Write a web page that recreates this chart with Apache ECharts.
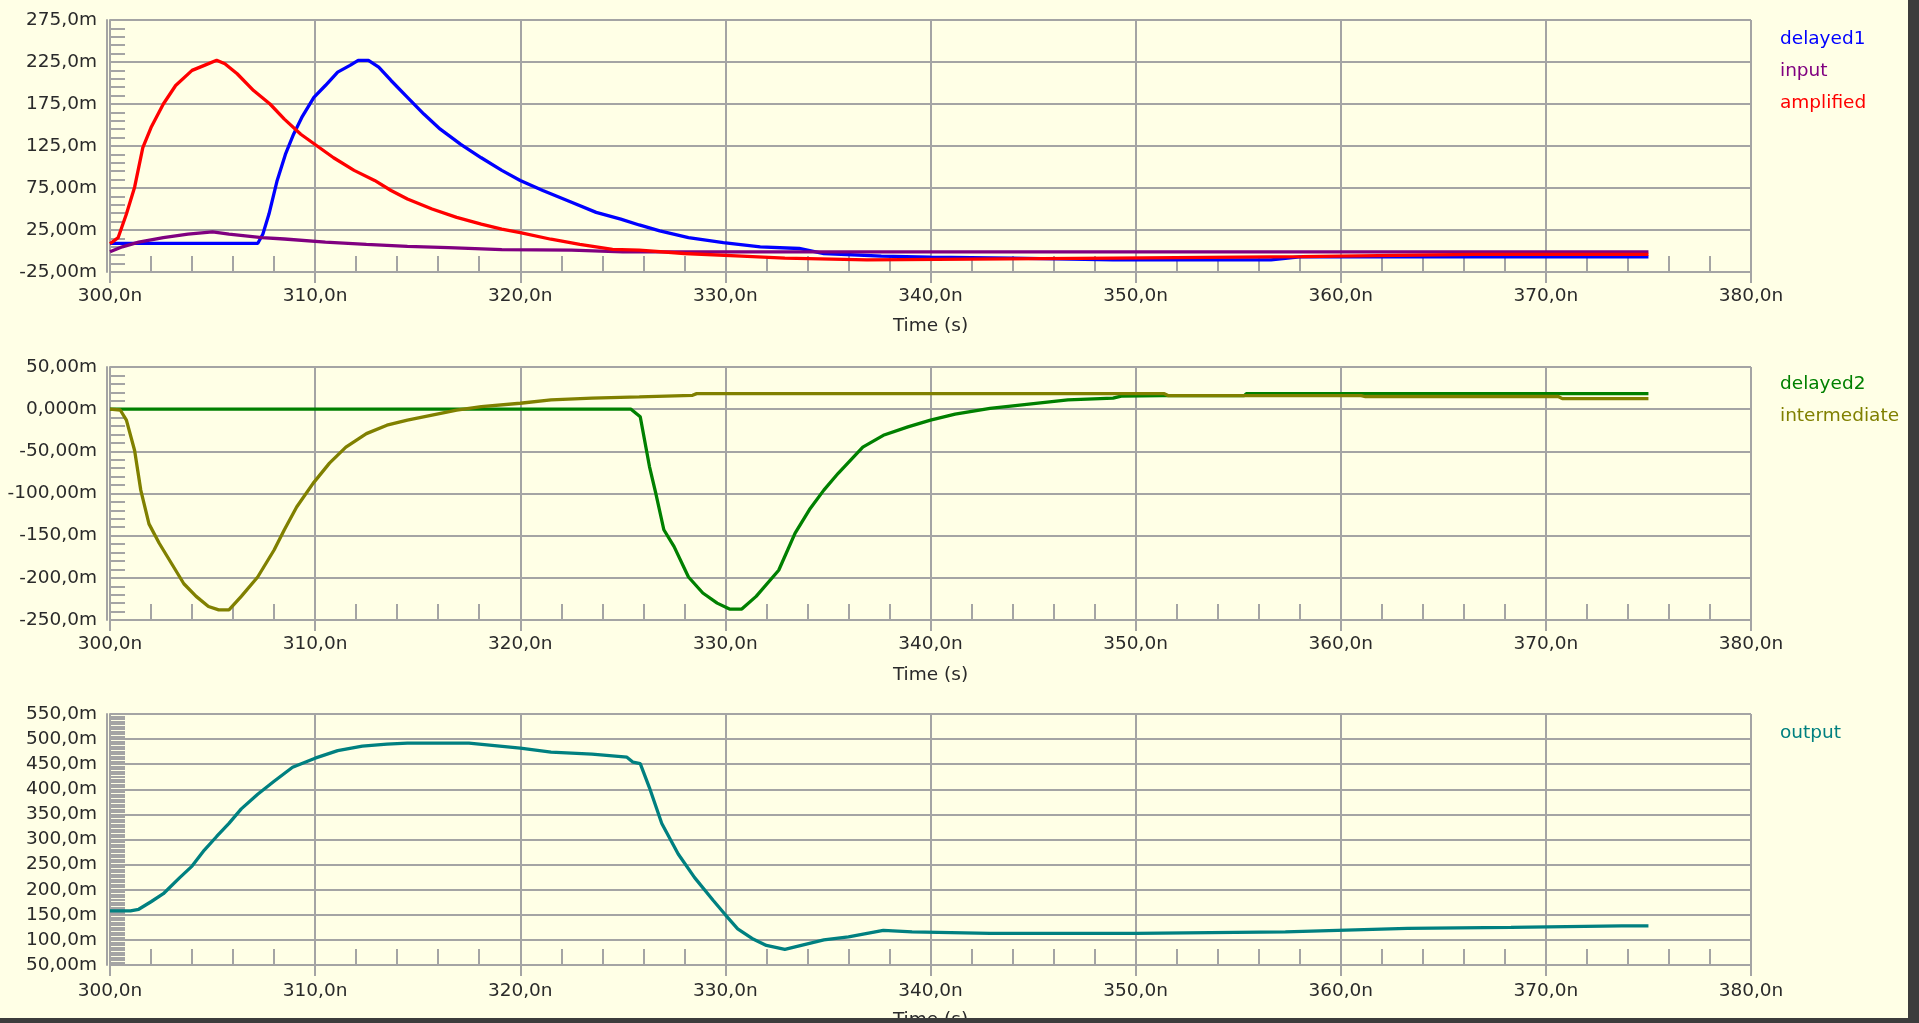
<!DOCTYPE html>
<html>
<head>
<meta charset="utf-8">
<script src="https://cdn.jsdelivr.net/npm/echarts@6/dist/echarts.min.js"></script>
<style>
html,body{margin:0;padding:0;background:#FFFFE6;}
#c{width:1919px;height:1023px;}
</style>
</head>
<body>
<div id="c"></div>
<script>
// ---------- tick labels ----------
const xTicks = [300, 310, 320, 330, 340, 350, 360, 370, 380];
const xLabels = ['300,0n', '310,0n', '320,0n', '330,0n', '340,0n', '350,0n', '360,0n', '370,0n', '380,0n'];
const yTicks1 = [-25, 25, 75, 125, 175, 225, 275];
const yLabels1 = ['-25,00m', '25,00m', '75,00m', '125,0m', '175,0m', '225,0m', '275,0m'];
const yTicks2 = [-250, -200, -150, -100, -50, 0, 50];
const yLabels2 = ['-250,0m', '-200,0m', '-150,0m', '-100,00m', '-50,00m', '0,000m', '50,00m'];
const yTicks3 = [50, 100, 150, 200, 250, 300, 350, 400, 450, 500, 550];
const yLabels3 = ['50,00m', '100,0m', '150,0m', '200,0m', '250,0m', '300,0m', '350,0m', '400,0m', '450,0m', '500,0m', '550,0m'];

// ---------- panel 1 series (time in ns, value in mV) ----------
const delayed1T = [300, 307.2, 307.45, 307.75, 308.15, 308.55, 308.95, 309.35, 309.94, 310.5, 311.1, 311.7, 312.1, 312.6, 313.1, 313.7, 314.5, 315.3, 316.1, 317.1, 318.1, 319.1, 320, 321.1, 322.5, 323.7, 324.9, 325.8, 326.8, 328.2, 329.9, 331.7, 333.6, 334.8, 337.6, 340, 344, 348.9, 356.6, 358, 375];
const delayed1V = [9, 9, 20, 44, 84, 115, 139, 159, 183, 197, 213, 221, 227, 227, 219, 203, 183, 163, 145, 127, 111, 96, 84, 72, 58, 46, 38, 31, 24, 16, 10, 4.8, 3, -3, -6, -7.4, -8.6, -10.5, -10.5, -7, -7];
const inputT = [300, 300.6, 301.4, 302.6, 303.8, 305, 305.8, 307.4, 308.5, 310.5, 312.5, 314.5, 316.5, 319.1, 322.5, 325, 375];
const inputV = [-1, 5, 10.5, 16, 20, 22.7, 20, 16, 14.3, 10.5, 7.8, 5.5, 4, 1.7, 1, -1, -1];
const amplifiedT = [300, 300.4, 300.8, 301.2, 301.6, 302, 302.6, 303.2, 304, 304.6, 305.2, 305.6, 306.2, 307, 307.8, 308.5, 309.3, 310.1, 310.9, 311.9, 312.9, 313.7, 314.5, 315.7, 316.9, 318.1, 319.1, 320, 321.5, 322.9, 324.5, 325.8, 328, 330.8, 332.9, 336.9, 348.9, 358.1, 366.5, 375];
const amplifiedV = [8.6, 16, 44, 76, 123, 147, 175, 197, 215, 221, 227, 223, 211, 191, 175, 157, 139, 125, 111, 96, 84, 72, 62, 50, 40, 32, 26, 22, 14, 8, 2, 1, -3, -6, -8.6, -10.5, -8.6, -6.7, -4, -4];

// ---------- panel 2 series ----------
const delayed2T = [300, 325.4, 325.85, 326.3, 326.6, 327.0, 327.5, 328.2, 328.9, 329.6, 330.2, 330.8, 331.5, 332.6, 333.4, 334.1, 334.8, 335.5, 336.7, 337.7, 338.9, 340.0, 341.2, 342.9, 344.8, 346.7, 348.9, 349.3, 351.3, 355.3, 355.4, 375];
const delayed2V = [0, 0, -9, -68, -99, -143, -163, -199, -218, -230, -237, -237, -222, -191, -147, -119, -96, -76, -45, -31, -21, -13, -6, 1, 6, 11, 13, 15.5, 16, 16, 18.4, 18.4];
const intermediateT = [300, 300.5, 300.8, 301.2, 301.5, 301.9, 302.4, 303.0, 303.6, 304.2, 304.8, 305.3, 305.8, 306.4, 307.2, 308, 308.5, 309.1, 309.9, 310.7, 311.5, 312.5, 313.5, 314.5, 315.7, 316.9, 318.1, 320, 321.5, 323.5, 325.8, 328.4, 328.6, 351.4, 351.6, 361, 361.2, 370.6, 370.8, 375];
const intermediateV = [0, -1, -13, -49, -96, -136, -159, -183, -207, -222, -234, -238, -238, -222, -199, -167, -143, -116, -88, -64, -45, -29, -19, -13, -7, -1, 3, 7, 11, 13, 14.5, 16.4, 18.4, 18.4, 16, 16, 15, 15, 12.5, 12.5];

// ---------- panel 3 series ----------
const outputT = [300, 301, 301.4, 302, 302.6, 303.4, 304, 304.6, 305.2, 305.8, 306.4, 307.2, 308, 308.9, 310, 311.1, 312.3, 313.5, 314.5, 317.5, 318.5, 320, 321.5, 323.5, 325.2, 325.5, 325.85, 326.3, 326.9, 327.7, 328.5, 329.4, 330, 330.6, 331.3, 332, 332.9, 333.7, 334.8, 336, 337.7, 339.1, 342.9, 350, 357.3, 363.25, 368.3, 373.7, 375];
const outputV = [158, 158, 161, 176, 192, 224, 247, 279, 306, 332, 361, 390, 416, 444, 462, 477, 486, 490, 492, 492, 488, 482, 474, 470, 464, 454, 451, 403, 332, 271, 224, 179, 150, 122, 103, 89, 81, 89, 100, 106, 119, 116, 113, 113, 116, 123, 125, 128, 128];

// ---------- styling / layout ----------
const BG = '#FFFFE6';
const GRID_COL = '#A4A4A4';
const TXT = '#2A2A2A';
const FONT = '"DejaVu Sans", Verdana, sans-serif';
const FS = 18.5;
const P1_SHIFT = 25; // panel 1 axis runs -25..275; drawn on 0..300 so ticks align with interval

function zip(t, v, shift) { return t.map((x, i) => [x, v[i] + (shift || 0)]); }
function labelFor(ticks, labels, shift) {
  return function (val) {
    const real = val - (shift || 0);
    const i = ticks.findIndex(tk => Math.abs(tk - real) < 1e-6);
    return i >= 0 ? labels[i] : '';
  };
}

const grids = [
  { left: 110, top: 20, width: 1641, height: 252, containLabel: false, outerBoundsMode: 'none' },
  { left: 110, top: 367, width: 1641, height: 253, containLabel: false, outerBoundsMode: 'none' },
  { left: 110, top: 714, width: 1641, height: 251, containLabel: false, outerBoundsMode: 'none' }
];
const labelMargin = [15, 15, 17];
const nameGap = [45, 46, 46];

const xAxes = [], yAxes = [];
const yCfg = [
  { min: 0, max: 300, fmt: labelFor(yTicks1, yLabels1, P1_SHIFT), minor: 5 },
  { min: -250, max: 50, fmt: labelFor(yTicks2, yLabels2, 0), minor: 5 },
  { min: 50, max: 550, fmt: labelFor(yTicks3, yLabels3, 0), minor: 10 }
];
for (let g = 0; g < 3; g++) {
  xAxes.push({
    type: 'value', gridIndex: g, position: 'bottom', min: 300, max: 380, interval: 10,
    name: 'Time (s)', nameLocation: 'middle', nameGap: nameGap[g],
    nameTextStyle: { color: TXT, fontFamily: FONT, fontSize: FS },
    axisLine: { show: true, onZero: false, lineStyle: { color: GRID_COL, width: 2 } },
    axisTick: { show: true, inside: false, length: 11, lineStyle: { color: GRID_COL, width: 2 } },
    axisLabel: { show: true, margin: labelMargin[g], color: TXT, fontFamily: FONT, fontSize: FS,
      formatter: labelFor(xTicks, xLabels, 0), showMinLabel: true, showMaxLabel: true },
    splitLine: { show: true, lineStyle: { color: GRID_COL, width: 2 } }
  });
  xAxes.push({
    type: 'value', gridIndex: g, position: 'bottom', min: 300, max: 380, interval: 2,
    axisLine: { show: false, onZero: false },
    axisTick: { show: true, inside: true, length: 16, lineStyle: { color: GRID_COL, width: 2 } },
    axisLabel: { show: false }, splitLine: { show: false }
  });
  yAxes.push({
    type: 'value', gridIndex: g, position: 'left', min: yCfg[g].min, max: yCfg[g].max, interval: 50,
    axisLine: { show: true, onZero: false, lineStyle: { color: GRID_COL, width: 2 } },
    axisTick: { show: true, inside: true, length: 15, lineStyle: { color: GRID_COL, width: 2 } },
    minorTick: { show: true, splitNumber: yCfg[g].minor, length: 15, lineStyle: { color: GRID_COL, width: 2 } },
    axisLabel: { show: true, margin: 13, color: TXT, fontFamily: FONT, fontSize: FS,
      formatter: yCfg[g].fmt, showMinLabel: true, showMaxLabel: true },
    splitLine: { show: true, lineStyle: { color: GRID_COL, width: 2 } }
  });
  yAxes.push({
    type: 'value', gridIndex: g, min: yCfg[g].min, max: yCfg[g].max, position: 'left', offset: 3,
    axisLine: { show: true, onZero: false, lineStyle: { color: GRID_COL, width: 2 } },
    axisTick: { show: false }, axisLabel: { show: false }, splitLine: { show: false }
  });
}

function line(name, data, color, g) {
  return {
    name: name, type: 'line', data: data, xAxisIndex: 2 * g, yAxisIndex: 2 * g,
    showSymbol: false, symbol: 'none', silent: true,
    lineStyle: { color: color, width: 3.3 }, itemStyle: { color: color }
  };
}

const series = [
  line('delayed1', zip(delayed1T, delayed1V, P1_SHIFT), '#0000FF', 0),
  line('input', zip(inputT, inputV, P1_SHIFT), '#800080', 0),
  line('amplified', zip(amplifiedT, amplifiedV, P1_SHIFT), '#FF0000', 0),
  line('delayed2', zip(delayed2T, delayed2V, 0), '#008000', 1),
  line('intermediate', zip(intermediateT, intermediateV, 0), '#808000', 1),
  line('output', zip(outputT, outputV, 0), '#008080', 2)
];

function legend(top, items) {
  return {
    orient: 'vertical', left: 1770, top: top, icon: 'none', itemWidth: 0, itemHeight: 19,
    itemGap: 13, selectedMode: false,
    textStyle: { fontFamily: FONT, fontSize: FS, lineHeight: 19 },
    data: items.map(it => ({ name: it[0], textStyle: { color: it[1] } }))
  };
}

const chart = echarts.init(document.getElementById('c'), null, { renderer: 'canvas' });
chart.setOption({
  backgroundColor: BG,
  animation: false,
  grid: grids,
  xAxis: xAxes,
  yAxis: yAxes,
  legend: [
    legend(25, [['delayed1', '#0000FF'], ['input', '#800080'], ['amplified', '#FF0000']]),
    legend(370, [['delayed2', '#008000'], ['intermediate', '#808000']]),
    legend(719, [['output', '#008080']])
  ],
  series: series,
  graphic: [
    { type: 'rect', z: 100, shape: { x: 1908, y: 0, width: 11, height: 1023 }, style: { fill: '#3C3C3C' } },
    { type: 'rect', z: 100, shape: { x: 0, y: 1018, width: 1919, height: 5 }, style: { fill: '#3C3C3C' } }
  ]
});
</script>
</body>
</html>
